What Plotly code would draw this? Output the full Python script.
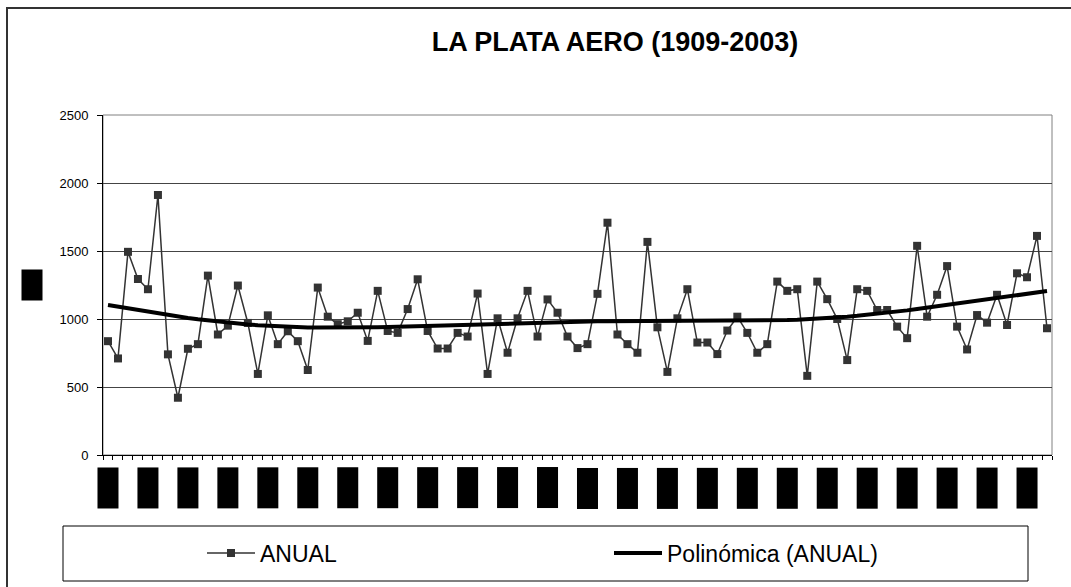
import numpy as np
import plotly.graph_objects as go

years = list(range(1909, 2004))
anual = [837, 710, 1494, 1294, 1219, 1912, 740, 421, 781, 815,
         1319, 886, 951, 1246, 971, 596, 1027, 815, 910, 837,
         625, 1231, 1017, 962, 983, 1046, 839, 1207, 912, 898,
         1073, 1292, 912, 783, 783, 898, 871, 1187, 596, 1005,
         752, 1005, 1207, 871, 1144, 1046, 871, 786, 815, 1185,
         1708, 886, 815, 752, 1567, 939, 611, 1005, 1219, 827,
         827, 742, 915, 1017, 898, 752, 815, 1275, 1207, 1219,
         582, 1275, 1146, 1000, 698, 1219, 1207, 1066, 1066, 944,
         859, 1538, 1017, 1178, 1389, 944, 776, 1029, 973, 1178,
         956, 1336, 1307, 1611, 932]
label_years = years[::4]
y_ticks = [0, 500, 1000, 1500, 2000, 2500]
trend_order = 6

W, H = 1071, 587
L, R, T, B = 103, 1052, 115, 455
PW, PH = R - L, B - T


def px(x):
    return (x - L) / PW


def py(y):
    return (B - y) / PH


idx = np.arange(1, len(anual) + 1)
trend = np.polynomial.Polynomial.fit(idx, anual, trend_order)(idx)

fig = go.Figure()
fig.add_trace(go.Scatter(
    x=idx, y=anual, mode="lines+markers", name="ANUAL",
    line=dict(color="#333333", width=1.5),
    marker=dict(symbol="square", size=8, color="#333333",
                line=dict(color="#333333", width=0)),
))
fig.add_trace(go.Scatter(
    x=idx, y=trend, mode="lines", name="Polinómica (ANUAL)",
    line=dict(color="#000000", width=4),
))

annotations = []
for i, yr in enumerate(years):
    if yr in label_years:
        annotations.append(dict(
            x=i + 1, y=py(467), xref="x", yref="paper",
            text=str(yr), showarrow=False, textangle=-90,
            xanchor="center", yanchor="top",
            width=40, height=20, borderpad=0,
            bgcolor="#000000", font=dict(color="#000000", size=13,
                                         family="Liberation Sans"),
        ))
annotations.append(dict(
    x=px(32), y=py(285), xref="paper", yref="paper",
    text="mm", showarrow=False, textangle=-90,
    xanchor="center", yanchor="middle",
    width=30, height=20, borderpad=0, bgcolor="#000000",
    font=dict(color="#000000", size=13, family="Liberation Sans"),
))

shapes = [
    dict(type="rect", xref="paper", yref="paper", x0=0, x1=1, y0=0, y1=1,
         line=dict(color="#808080", width=1), fillcolor="rgba(0,0,0,0)", layer="below"),
    dict(type="rect", xref="paper", yref="paper", x0=px(63), x1=px(1028),
         y0=py(581), y1=py(526), line=dict(color="#000000", width=1),
         fillcolor="rgba(0,0,0,0)"),
    dict(type="rect", xref="paper", yref="paper", x0=px(7), x1=px(1090),
         y0=py(600), y1=py(8), line=dict(color="#333333", width=2),
         fillcolor="rgba(0,0,0,0)"),
]

fig.update_layout(
    width=W, height=H,
    margin=dict(l=L, r=W - R, t=T, b=H - B, pad=0, autoexpand=False),
    paper_bgcolor="white", plot_bgcolor="white",
    font=dict(family="Liberation Sans", color="#000000"),
    title=dict(text="<b>LA PLATA AERO (1909-2003)</b>", x=615 / W, xanchor="center",
               y=1 - 42 / H, yanchor="middle", font=dict(size=27, color="#000000")),
    xaxis=dict(range=[0.5, len(anual) + 0.5], tick0=0.5, dtick=1, showticklabels=False,
               ticks="outside", ticklen=4, tickcolor="#000000", showgrid=False,
               showline=True, linecolor="#000000", linewidth=1, zeroline=False),
    yaxis=dict(range=[0, 2500], tickvals=y_ticks, ticks="outside", ticklen=5,
               tickcolor="#000000", showgrid=True, gridcolor="#444444", gridwidth=1,
               showline=True, linecolor="#000000", linewidth=1, zeroline=False,
               tickfont=dict(size=13, color="#000000"), ticklabelstandoff=6),
    showlegend=True,
    legend=dict(orientation="h", x=px(202), xanchor="left", y=py(553), yanchor="middle",
                entrywidth=344, entrywidthmode="pixels", bgcolor="rgba(0,0,0,0)",
                font=dict(size=23, color="#000000"), itemwidth=48),
    annotations=annotations,
    shapes=shapes,
)

fig.write_html("out.html", post_script="document.body.style.margin='0px';",
               config={"displayModeBar": False})
